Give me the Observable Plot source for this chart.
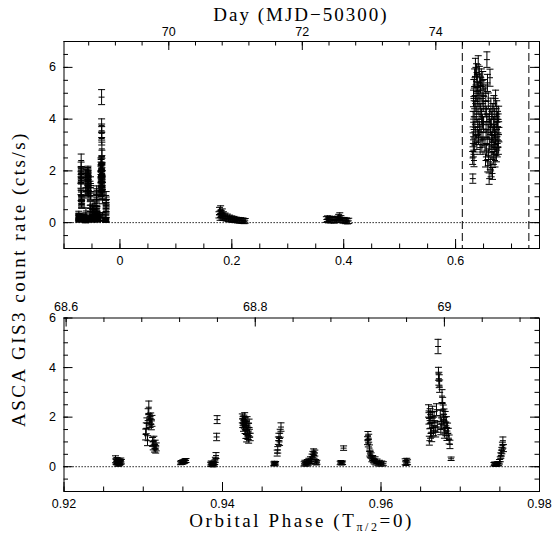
<!DOCTYPE html>
<html><head><meta charset="utf-8">
<script src="https://cdn.jsdelivr.net/npm/d3@7"></script>
<script src="https://cdn.jsdelivr.net/npm/@observablehq/plot@0.6"></script>
<style>
body{margin:0;background:#fff;}
#wrap{position:relative;width:558px;height:539px;overflow:hidden;background:#fff;}
#top,#bot{position:absolute;left:0;}
#top{top:0;} #bot{top:280px;}
#ov{position:absolute;left:0;top:0;pointer-events:none;font-family:"Liberation Serif",serif;font-size:19px;fill:#000;}
</style></head><body>
<div id="wrap">
<div id="top"></div><div id="bot"></div>
<svg id="ov" width="558" height="539">
<text x="301" y="21" text-anchor="middle" style="letter-spacing:2px">Day (MJD−50300)</text>
<text transform="translate(25,279) rotate(-90)" text-anchor="middle" style="letter-spacing:2.5px">ASCA GIS3 count rate (cts/s)</text>
<text x="301.6" y="527" text-anchor="middle" style="letter-spacing:2.6px">Orbital Phase (T<tspan dy="4" font-size="12">π/2</tspan><tspan dy="-4">=0)</tspan></text>
</svg>
</div>
<script>
// ---------- data: orbital phase, count rate, 1-sigma error ----------
// flare interval (detail panel, phases 0.92-0.98)
const flarePhase = [
 0.92650,0.92656,0.92662,0.92668,0.92674,0.92680,0.92686,0.92692,0.92698,0.92704,0.92710,0.92717,0.92724,
 0.93030,0.93038,0.93046,0.93054,0.93062,0.93070,0.93078,0.93086,0.93094,0.93102,0.93110,0.93118,0.93126,0.93134,0.93142,0.93150,0.93157,0.93164,
 0.93470,0.93480,0.93490,0.93500,0.93510,0.93520,0.93530,0.93540,
 0.93850,0.93858,0.93865,0.93872,0.93880,0.93888,0.93895,0.93902,0.93910,0.93918,0.93926,0.93932,
 0.94250,0.94255,0.94260,0.94265,0.94270,0.94275,0.94280,0.94285,0.94290,0.94295,0.94300,0.94305,0.94310,0.94315,0.94320,0.94325,0.94330,0.94335,0.94340,0.94350,
 0.94648,0.94655,0.94662,0.94670,0.94690,0.94697,0.94705,0.94712,0.94720,0.94728,0.94738,
 0.95030,0.95040,0.95050,0.95060,0.95070,0.95080,0.95090,0.95100,0.95110,0.95120,0.95130,0.95140,0.95150,0.95156,0.95165,0.95175,0.95185,0.95192,
 0.95485,0.95495,0.95505,0.95515,0.95528,
 0.95830,0.95835,0.95840,0.95845,0.95855,0.95860,0.95865,0.95875,0.95885,0.95895,0.95905,0.95915,0.95925,0.95935,0.95950,0.95965,0.95980,0.95995,0.96010,0.96030,
 0.96305,0.96315,0.96325,0.96335,
 0.96600,0.96605,0.96610,0.96615,0.96620,0.96625,0.96630,0.96635,0.96640,0.96648,0.96655,0.96662,0.96670,0.96680,0.96690,0.96700,0.96710,0.96720,0.96725,0.96730,0.96735,0.96740,0.96748,0.96755,0.96762,0.96770,0.96778,0.96785,0.96790,0.96795,0.96800,0.96805,0.96810,0.96818,0.96825,0.96832,0.96840,0.96850,0.96860,0.96870,0.96885,
 0.97425,0.97435,0.97445,0.97455,0.97465,0.97475,0.97485,0.97495,0.97505,0.97512,0.97520,0.97525,0.97532,0.97538,0.97545
];
const flareRate = [
 0.30,0.22,0.18,0.25,0.12,0.20,0.10,0.15,0.22,0.12,0.18,0.25,0.20,
 1.30,1.55,1.75,1.05,2.10,2.40,1.90,1.80,1.95,1.70,1.85,1.00,0.85,1.05,0.75,0.90,0.70,0.80,
 0.15,0.18,0.16,0.20,0.19,0.22,0.24,0.25,
 0.10,0.15,0.08,0.12,0.06,0.14,0.10,0.18,0.28,0.45,1.20,1.90,
 1.95,1.75,1.85,1.60,1.90,1.70,2.00,1.50,1.80,1.30,1.65,1.15,1.85,1.40,1.25,1.60,1.10,1.75,1.35,1.20,
 0.12,0.15,0.10,0.14,0.55,0.68,1.05,1.20,1.00,1.35,1.60,
 0.12,0.18,0.10,0.15,0.20,0.12,0.25,0.18,0.30,0.22,0.40,0.50,0.60,0.45,0.55,0.20,0.15,0.18,
 0.15,0.18,0.14,0.16,0.75,
 1.05,1.25,0.95,1.15,0.75,0.55,0.50,0.45,0.30,0.35,0.25,0.20,0.30,0.15,0.22,0.12,0.18,0.10,0.15,0.12,
 0.20,0.15,0.22,0.18,
 2.25,1.95,1.05,1.75,2.10,1.35,2.00,1.55,1.20,2.20,1.80,1.45,2.00,1.65,1.40,2.30,1.60,4.85,3.75,3.55,3.45,3.25,2.05,1.50,1.75,2.85,2.55,2.25,1.90,2.10,1.35,1.60,2.00,1.45,1.80,1.25,1.55,1.35,1.10,0.90,0.32,
 0.10,0.12,0.08,0.11,0.09,0.13,0.12,0.20,0.30,0.45,0.55,0.65,0.85,1.05,0.75
];
const flareErr = [
 0.14,0.12,0.10,0.12,0.09,0.10,0.08,0.09,0.10,0.08,0.09,0.10,0.09,
 0.22,0.22,0.22,0.20,0.24,0.25,0.22,0.22,0.22,0.21,0.22,0.18,0.17,0.18,0.16,0.17,0.15,0.16,
 0.07,0.07,0.07,0.08,0.07,0.08,0.08,0.08,
 0.08,0.08,0.07,0.08,0.07,0.08,0.08,0.09,0.10,0.12,0.15,0.16,
 0.18,0.17,0.18,0.17,0.18,0.17,0.18,0.16,0.17,0.16,0.17,0.15,0.17,0.16,0.15,0.16,0.15,0.17,0.16,0.15,
 0.07,0.07,0.07,0.07,0.12,0.13,0.15,0.15,0.14,0.16,0.17,
 0.08,0.08,0.08,0.08,0.09,0.08,0.09,0.08,0.10,0.09,0.11,0.12,0.12,0.11,0.12,0.09,0.08,0.08,
 0.07,0.07,0.07,0.07,0.09,
 0.16,0.17,0.15,0.16,0.13,0.12,0.12,0.11,0.10,0.10,0.09,0.09,0.10,0.08,0.09,0.08,0.08,0.08,0.08,0.08,
 0.12,0.10,0.12,0.10,
 0.25,0.23,0.18,0.22,0.24,0.20,0.23,0.21,0.19,0.24,0.22,0.20,0.23,0.21,0.20,0.24,0.21,0.29,0.26,0.26,0.26,0.25,0.23,0.21,0.22,0.26,0.25,0.24,0.22,0.23,0.20,0.21,0.23,0.20,0.22,0.19,0.21,0.20,0.18,0.17,0.07,
 0.07,0.07,0.07,0.07,0.07,0.07,0.08,0.09,0.10,0.11,0.12,0.13,0.14,0.15,0.14
];
// low state near phase 0.2
const lowAPhase = [0.177,0.178,0.179,0.180,0.181,0.182,0.183,0.184,0.185,0.186,0.188,0.190,0.192,0.194,0.196,0.198,0.200,0.202,0.204,0.206,0.208,0.210,0.212,0.214,0.216,0.218,0.220,0.222,0.224];
const lowARate  = [0.30,0.45,0.20,0.50,0.35,0.25,0.40,0.18,0.30,0.22,0.26,0.16,0.22,0.14,0.19,0.12,0.16,0.10,0.14,0.09,0.12,0.08,0.11,0.07,0.10,0.06,0.09,0.05,0.07];
const lowAErr   = [0.12,0.14,0.11,0.15,0.12,0.11,0.13,0.10,0.12,0.11,0.11,0.10,0.11,0.10,0.10,0.10,0.10,0.09,0.10,0.09,0.09,0.09,0.09,0.09,0.09,0.09,0.09,0.09,0.09];
// low state near phase 0.4
const lowBPhase = [0.369,0.371,0.373,0.375,0.377,0.379,0.381,0.383,0.385,0.387,0.389,0.391,0.393,0.395,0.397,0.399,0.401,0.403,0.405,0.407,0.409];
const lowBRate  = [0.12,0.15,0.10,0.14,0.09,0.13,0.11,0.08,0.12,0.10,0.14,0.20,0.25,0.16,0.10,0.08,0.10,0.06,0.08,0.05,0.07];
const lowBErr   = [0.11,0.11,0.11,0.11,0.10,0.11,0.10,0.10,0.11,0.10,0.11,0.12,0.13,0.11,0.10,0.10,0.10,0.10,0.10,0.10,0.10];
// bright state near phase 0.65
const highPhase = [
 0.6305,0.6308,0.6311,0.6314,0.6317,0.6320,0.6323,0.6326,0.6329,0.6332,0.6335,0.6340,0.6345,0.6350,0.6355,0.6360,0.6365,0.6370,0.6375,0.6380,0.6385,0.6390,0.6395,0.6400,0.6405,0.6410,0.6415,0.6420,0.6425,0.6430,0.6435,0.6440,0.6445,0.6450,0.6455,0.6460,0.6465,0.6470,0.6475,0.6480,0.6485,0.6490,0.6495,0.6500,0.6505,
 0.6525,0.6530,0.6535,0.6540,0.6545,0.6550,0.6555,0.6560,0.6565,0.6570,0.6575,0.6580,0.6585,0.6590,0.6595,0.6600,0.6605,0.6610,0.6615,0.6620,0.6625,0.6630,0.6635,0.6640,0.6645,0.6650,0.6655,0.6660,0.6665,0.6670,0.6675,0.6680,0.6685,0.6690,0.6695,0.6700,0.6705,0.6710,0.6715,0.6720,0.6725,0.6730,0.6735,0.6740,0.6745,0.6750,0.6755,0.6760,0.6765,0.6770,0.6775
];
const highRate = [
 2.5,1.7,3.2,4.0,2.8,4.8,3.6,5.2,2.4,4.4,3.0,5.6,3.8,4.6,6.0,3.4,5.0,4.2,5.8,3.1,4.9,5.4,3.7,4.5,6.1,3.3,5.1,4.0,5.7,3.6,4.7,2.9,5.3,4.3,3.5,5.6,4.1,3.0,4.8,3.9,5.5,3.2,4.6,3.8,5.2,
 3.0,4.4,2.4,5.0,3.6,2.8,4.2,6.3,3.3,5.4,2.2,3.9,4.7,2.6,3.5,1.7,4.1,3.0,5.6,2.3,3.7,4.5,2.0,3.2,4.0,2.7,3.4,1.9,4.3,3.1,2.5,3.8,4.6,2.9,3.5,4.1,2.4,3.3,4.8,3.0,3.9,2.6,4.4,3.6,2.8,4.0,3.2,3.7,2.9,4.2,3.4
];
const highErr = [
 0.25,0.18,0.27,0.30,0.26,0.32,0.28,0.33,0.24,0.31,0.27,0.34,0.29,0.31,0.35,0.28,0.32,0.30,0.34,0.27,0.32,0.33,0.29,0.31,0.35,0.28,0.32,0.30,0.34,0.29,0.31,0.26,0.33,0.30,0.28,0.34,0.30,0.27,0.32,0.29,0.34,0.28,0.31,0.29,0.33,
 0.27,0.31,0.25,0.32,0.29,0.26,0.30,0.30,0.28,0.33,0.24,0.29,0.31,0.25,0.28,0.22,0.30,0.27,0.33,0.24,0.29,0.31,0.23,0.28,0.30,0.26,0.28,0.23,0.30,0.27,0.25,0.29,0.31,0.26,0.28,0.30,0.25,0.28,0.32,0.27,0.29,0.25,0.31,0.28,0.26,0.30,0.27,0.29,0.26,0.30,0.28
];
// dashed marker phases (top panel)
const markerPhases = [0.612, 0.731];

// ---------- tick labels ----------
const topXLabels = [0, 0.2, 0.4, 0.6];
const botXLabels = [0.92, 0.94, 0.96, 0.98];
const yLabels = [0, 2, 4, 6];
const topDayLabels = [70, 72, 74];
const botDayLabels = [68.6, 68.8, 69];
// Day (MJD-50300) <-> orbital phase relation
const periodDays = 8.38, phaseAtDay69 = -0.032;
const dayToPhase = (d) => (d - 69) / periodDays + phaseAtDay69;

// ---------- helpers ----------
const rows = (P, R, E, shift = 0) => P.map((x, i) => ({x: x + shift, y: R[i], e: E[i]}));
const hbar = {draw(ctx, size) { const r = Math.sqrt(size / Math.PI); ctx.moveTo(-r, 0); ctx.lineTo(r, 0); }};
const ink = "#000";

function errorBars(data) {
  return [
    Plot.ruleX(data, {x: "x", y1: d => d.y - d.e, y2: d => d.y + d.e, stroke: ink, strokeWidth: 1}),
    Plot.dot(data, {x: "x", y: d => d.y + d.e, r: 3.5, symbol: hbar, stroke: ink, fill: "none", strokeWidth: 1}),
    Plot.dot(data, {x: "x", y: d => d.y - d.e, r: 3.5, symbol: hbar, stroke: ink, fill: "none", strokeWidth: 1}),
    Plot.dot(data, {x: "x", y: "y", r: 3, symbol: hbar, stroke: ink, fill: "none", strokeWidth: 1})
  ];
}

const within = (arr, [a, b]) => arr.filter(v => v >= a - 1e-9 && v <= b + 1e-9);
const stepRange = (a, b, s) => d3.range(Math.round((b - a) / s) + 1).map(i => +(a + i * s).toFixed(6));

// inward ticks on all four sides (lengths given in pixels, converted through the scale extents),
// labels outside on bottom, top and left
function frameAxes(o, xd, yd, W, H) {
  const ax = [];
  const tk = {stroke: ink, strokeWidth: 1};
  const ux = (xd[1] - xd[0]) / W, uy = (yd[1] - yd[0]) / H; // data units per pixel
  for (const [vals, len] of [[o.xMinor, 4.5], [o.xMajor, 9]]) {
    ax.push(Plot.ruleX(vals, {x: d => d, y1: () => yd[0], y2: () => yd[0] + len * uy, ...tk}));
  }
  for (const [vals, len] of [[o.tMinor, 4.5], [o.tMajor, 9]]) {
    ax.push(Plot.ruleX(vals, {x: d => d, y1: () => yd[1], y2: () => yd[1] - len * uy, ...tk}));
  }
  for (const [vals, len] of [[o.yMinor, 4.5], [o.yMajor, 9]]) {
    ax.push(Plot.ruleY(vals, {y: d => d, x1: () => xd[0], x2: () => xd[0] + len * ux, ...tk}));
    ax.push(Plot.ruleY(vals, {y: d => d, x1: () => xd[1], x2: () => xd[1] - len * ux, ...tk}));
  }
  ax.push(Plot.axisX(o.xMajor, {anchor: "bottom", tickSize: 0, tickPadding: o.xPad, tickFormat: (d, i) => String(o.xText[i]), label: null, fill: ink, fontSize: 12.5}));
  ax.push(Plot.axisX(o.tMajor, {anchor: "top", tickSize: 0, tickPadding: o.tPad, tickFormat: (d, i) => String(o.tText[i]), label: null, fill: ink, fontSize: 12.5}));
  ax.push(Plot.axisY(o.yMajor, {anchor: "left", tickSize: 0, tickPadding: 8, tickFormat: d => String(d), label: null, fill: ink, fontSize: 12.5}));
  return ax;
}

const style = {fontFamily: "'Liberation Sans', Arial, sans-serif", fontSize: "12.5px", color: "#000", background: "transparent", overflow: "visible"};
const WIDTH = 558, ML = 63.5, MR = 19;

// ---------- top panel ----------
const topX = [-0.1, 0.75], topY = [-1, 7];
const topH = 280, topMT = 41, topMB = 32;
const topData = [
  ...rows(flarePhase, flareRate, flareErr, -1),
  ...rows(lowAPhase, lowARate, lowAErr),
  ...rows(lowBPhase, lowBRate, lowBErr),
  ...rows(highPhase, highRate, highErr)
];
const topDayMinor = within(stepRange(68.4, 75.6, 0.4).map(dayToPhase), topX);
const topPlot = Plot.plot({
  width: WIDTH, height: topH,
  marginLeft: ML, marginRight: MR, marginTop: topMT, marginBottom: topMB,
  style,
  x: {domain: topX, label: null},
  y: {domain: topY, label: null},
  marks: [
    Plot.ruleY([0], {stroke: ink, strokeWidth: 1, strokeDasharray: "1.3,1.7"}),
    Plot.ruleX(markerPhases, {stroke: ink, strokeWidth: 1, strokeDasharray: "8,4"}),
    ...errorBars(topData),
    ...frameAxes({
      xMinor: within(stepRange(-0.1, 0.75, 0.05), topX), xMajor: topXLabels, xText: topXLabels, xPad: 8,
      tMinor: topDayMinor, tMajor: topDayLabels.map(dayToPhase), tText: topDayLabels, tPad: 6,
      yMinor: stepRange(-1, 7, 0.5), yMajor: yLabels
    }, topX, topY, WIDTH - ML - MR, topH - topMT - topMB),
    Plot.frame({stroke: ink, strokeWidth: 1})
  ]
});
document.getElementById("top").append(topPlot);

// ---------- bottom panel ----------
const botX = [0.92, 0.98], botY = [-1, 6];
const botH = 259, botMT = 37.5, botMB = 48;
const botData = rows(flarePhase, flareRate, flareErr);
const botDayMinor = within(stepRange(68.56, 69.12, 0.04).map(d => dayToPhase(d) + 1), botX);
const botPlot = Plot.plot({
  width: WIDTH, height: botH,
  marginLeft: ML, marginRight: MR, marginTop: botMT, marginBottom: botMB,
  style,
  x: {domain: botX, label: null},
  y: {domain: botY, label: null},
  marks: [
    Plot.ruleY([0], {stroke: ink, strokeWidth: 1, strokeDasharray: "1.3,1.7"}),
    ...errorBars(botData),
    ...frameAxes({
      xMinor: within(stepRange(0.92, 0.98, 0.005), botX), xMajor: botXLabels, xText: botXLabels, xPad: 8,
      tMinor: botDayMinor, tMajor: botDayLabels.map(d => dayToPhase(d) + 1), tText: botDayLabels, tPad: 7,
      yMinor: stepRange(-1, 6, 0.5), yMajor: yLabels
    }, botX, botY, WIDTH - ML - MR, botH - botMT - botMB),
    Plot.frame({stroke: ink, strokeWidth: 1})
  ]
});
document.getElementById("bot").append(botPlot);
</script>
</body></html>
